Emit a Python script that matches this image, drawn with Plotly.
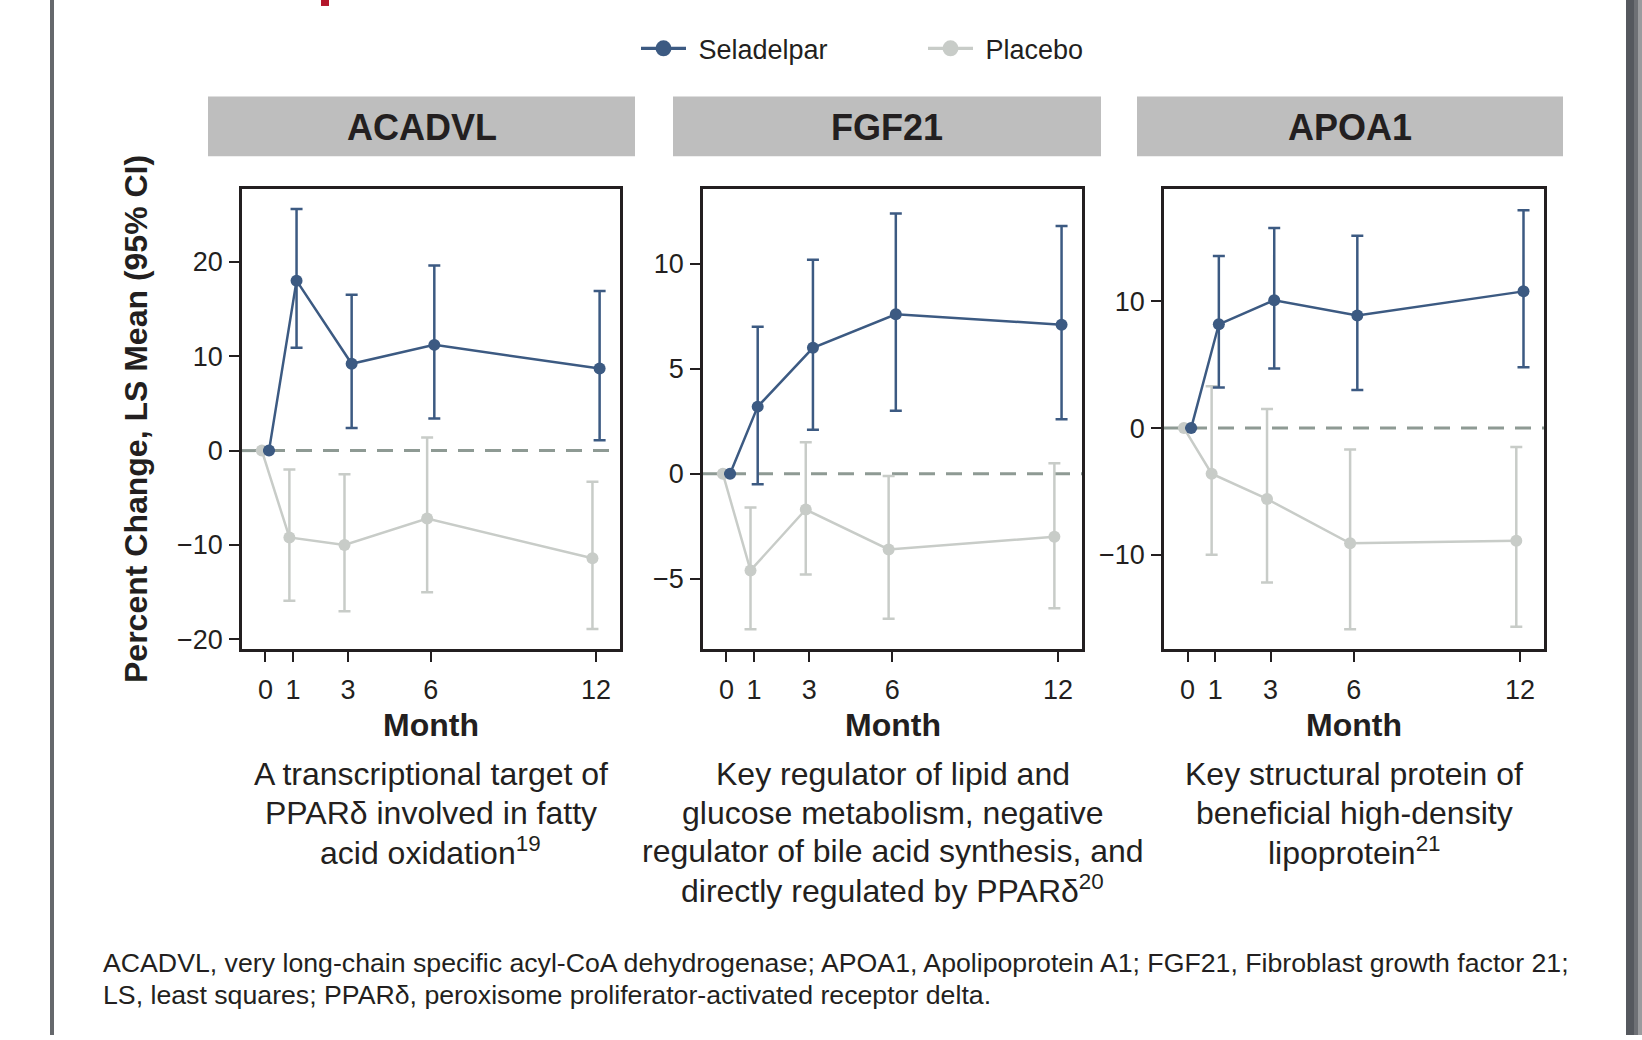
import plotly.graph_objects as go

W, H = 1642, 1040
FONT = "Liberation Sans, Arial, sans-serif"
TXT = "#231f20"
SEL_C = "#3c5a82"
PLC_C = "#c8ccc8"
ZERO_C = "#8e9a94"

months = [0, 1, 3, 6, 12]
dodge = 0.13

panels = ["ACADVL", "FGF21", "APOA1"]

sel_mean = {
    "ACADVL": [0, 18.0, 9.2, 11.2, 8.7],
    "FGF21": [0, 3.2, 6.0, 7.6, 7.1],
    "APOA1": [0, 8.2, 10.1, 8.9, 10.8],
}
sel_upper = {
    "ACADVL": [None, 25.6, 16.5, 19.6, 16.9],
    "FGF21": [None, 7.0, 10.2, 12.4, 11.8],
    "APOA1": [None, 13.6, 15.8, 15.2, 17.2],
}
sel_lower = {
    "ACADVL": [None, 10.9, 2.4, 3.4, 1.1],
    "FGF21": [None, -0.5, 2.1, 3.0, 2.6],
    "APOA1": [None, 3.2, 4.7, 3.0, 4.8],
}
plc_mean = {
    "ACADVL": [0, -9.2, -10.0, -7.2, -11.4],
    "FGF21": [0, -4.6, -1.7, -3.6, -3.0],
    "APOA1": [0, -3.6, -5.6, -9.1, -8.9],
}
plc_upper = {
    "ACADVL": [None, -2.0, -2.5, 1.4, -3.3],
    "FGF21": [None, -1.6, 1.5, -0.1, 0.5],
    "APOA1": [None, 3.3, 1.5, -1.7, -1.5],
}
plc_lower = {
    "ACADVL": [None, -15.9, -17.0, -15.0, -18.9],
    "FGF21": [None, -7.4, -4.8, -6.9, -6.4],
    "APOA1": [None, -10.0, -12.2, -15.9, -15.7],
}

y_ranges = {
    "ACADVL": [-21.05, 27.7],
    "FGF21": [-8.36, 13.56],
    "APOA1": [-17.48, 18.88],
}
y_ticks = {
    "ACADVL": [-20, -10, 0, 10, 20],
    "FGF21": [-5, 0, 5, 10],
    "APOA1": [-10, 0, 10],
}
x_range = [-0.85, 12.87]

descriptions = {
    "ACADVL": ["A transcriptional target of", "PPARδ involved in fatty",
               "acid oxidation<sup>19</sup>"],
    "FGF21": ["Key regulator of lipid and", "glucose metabolism, negative",
              "regulator of bile acid synthesis, and",
              "directly regulated by PPARδ<sup>20</sup>"],
    "APOA1": ["Key structural protein of", "beneficial high-density",
              "lipoprotein<sup>21</sup>"],
}

footnote_lines = [
    "ACADVL, very long-chain specific acyl-CoA dehydrogenase; APOA1, Apolipoprotein A1; FGF21, Fibroblast growth factor 21;",
    "LS, least squares; PPARδ, peroxisome proliferator-activated receptor delta.",
]
y_title = "Percent Change, LS Mean (95% CI)"
x_title = "Month"
legend_names = ["Seladelpar", "Placebo"]

# layout geometry (pixels)
box_x = {"ACADVL": (242, 620), "FGF21": (703, 1082), "APOA1": (1164, 1544)}
box_y = (190, 652.5)
strip_x = {"ACADVL": (208, 635), "FGF21": (673, 1101), "APOA1": (1137, 1563)}
strip_y = (97, 157)


def px(x):
    return x / W


def py(y):
    return 1 - y / H


def err(mean, bound, upper):
    out = []
    for m, b in zip(mean, bound):
        if b is None:
            out.append(None)
        else:
            out.append(b - m if upper else m - b)
    return out


fig = go.Figure()
annotations = []
shapes = []

# legend-only entries
NB = "\u00a0"
fig.add_trace(go.Scatter(x=[None], y=[None], mode="lines+markers",
                         name=NB + legend_names[0], showlegend=True,
                         line=dict(color=SEL_C, width=3.2),
                         marker=dict(color=SEL_C, size=16)))
fig.add_trace(go.Scatter(x=[None], y=[None], mode="lines+markers",
                         name=NB + legend_names[1], showlegend=True,
                         line=dict(color=PLC_C, width=3.2),
                         marker=dict(color=PLC_C, size=16)))

for i, name in enumerate(panels):
    ax = "" if i == 0 else str(i + 1)
    xref, yref = "x" + ax, "y" + ax
    # placebo
    fig.add_trace(go.Scatter(
        x=[m - dodge for m in months], y=plc_mean[name],
        xaxis=xref, yaxis=yref, mode="lines+markers",
        name=legend_names[1], showlegend=False,
        line=dict(color=PLC_C, width=2.5),
        marker=dict(color=PLC_C, size=12),
        error_y=dict(type="data", symmetric=False,
                     array=err(plc_mean[name], plc_upper[name], True),
                     arrayminus=err(plc_mean[name], plc_lower[name], False),
                     color=PLC_C, thickness=2.5, width=6),
    ))
    # seladelpar
    fig.add_trace(go.Scatter(
        x=[m + dodge for m in months], y=sel_mean[name],
        xaxis=xref, yaxis=yref, mode="lines+markers",
        name=legend_names[0], showlegend=False,
        line=dict(color=SEL_C, width=2.5),
        marker=dict(color=SEL_C, size=12),
        error_y=dict(type="data", symmetric=False,
                     array=err(sel_mean[name], sel_upper[name], True),
                     arrayminus=err(sel_mean[name], sel_lower[name], False),
                     color=SEL_C, thickness=2.5, width=6),
    ))

    x0, x1 = box_x[name]
    axis_common = dict(
        showline=True, linecolor=TXT, linewidth=2.5, mirror=True,
        ticks="outside", ticklen=10, tickwidth=2, tickcolor=TXT,
        showgrid=False, zeroline=False,
        tickfont=dict(family=FONT, size=27, color=TXT),
    )
    fig.update_layout(**{
        "xaxis" + ax: dict(
            domain=[px(x0), px(x1)], range=x_range,
            tickvals=months, ticktext=[str(m) for m in months],
            anchor=yref, ticklabelstandoff=4, **axis_common),
        "yaxis" + ax: dict(
            domain=[py(box_y[1]), py(box_y[0])], range=y_ranges[name],
            tickvals=y_ticks[name], anchor=xref, ticklabelstandoff=1,
            **axis_common),
    })

    # zero reference line
    shapes.append(dict(type="line", xref=xref + " domain", yref=yref,
                       x0=0, x1=1, y0=0, y1=0, layer="below",
                       line=dict(color=ZERO_C, width=3, dash="16px,11px")))

    # strip header
    sx0, sx1 = strip_x[name]
    shapes.append(dict(type="rect", xref="paper", yref="paper",
                       x0=px(sx0), x1=px(sx1), y0=py(strip_y[1]), y1=py(strip_y[0]),
                       fillcolor="#bebebe", line=dict(width=0), layer="below"))
    annotations.append(dict(x=px((sx0 + sx1) / 2), y=py(sum(strip_y) / 2 + 1),
                            xref="paper", yref="paper", text="<b>%s</b>" % name,
                            showarrow=False, xanchor="center", yanchor="middle",
                            font=dict(family=FONT, size=36, color=TXT)))

    cx = (x0 + x1) / 2
    annotations.append(dict(x=px(cx), y=py(729), xref="paper", yref="paper",
                            text="<b>%s</b>" % x_title, showarrow=False,
                            xanchor="center", yanchor="middle",
                            font=dict(family=FONT, size=32, color=TXT)))
    for j, line in enumerate(descriptions[name]):
        annotations.append(dict(x=px(cx), y=py(778 + j * 38.5), xref="paper",
                                yref="paper", text=line, showarrow=False,
                                xanchor="center", yanchor="middle",
                                font=dict(family=FONT, size=32, color=TXT)))

# y-axis title
annotations.append(dict(x=px(136), y=py(421), xref="paper", yref="paper",
                        text="<b>%s</b>" % y_title, textangle=-90,
                        showarrow=False, xanchor="center", yanchor="middle",
                        font=dict(family=FONT, size=32, color=TXT)))

# footnote
for j, line in enumerate(footnote_lines):
    annotations.append(dict(x=px(101), y=py(968 + j * 31.5), xref="paper",
                            yref="paper", text=line, showarrow=False,
                            xanchor="left", yanchor="middle",
                            font=dict(family=FONT, size=26.7, color=TXT)))

# page frame decorations
shapes.append(dict(type="rect", xref="paper", yref="paper", x0=px(50), x1=px(54),
                   y0=0, y1=1, fillcolor="#65686c", line=dict(width=0)))
shapes.append(dict(type="rect", xref="paper", yref="paper", x0=px(1626), x1=px(1634),
                   y0=0, y1=1, fillcolor="#55585e", line=dict(width=0)))
shapes.append(dict(type="rect", xref="paper", yref="paper", x0=px(1634), x1=px(1638),
                   y0=0, y1=1, fillcolor="#6e7075", line=dict(width=0)))
shapes.append(dict(type="rect", xref="paper", yref="paper", x0=px(1638), x1=px(1642),
                   y0=0, y1=1, fillcolor="#9a9b9e", line=dict(width=0)))
shapes.append(dict(type="rect", xref="paper", yref="paper", x0=px(321), x1=px(329),
                   y0=py(6), y1=1, fillcolor="#b3162b", line=dict(width=0)))

fig.update_layout(
    width=W, height=H,
    margin=dict(l=0, r=0, t=0, b=0),
    paper_bgcolor="white", plot_bgcolor="white",
    font=dict(family=FONT, color=TXT),
    showlegend=True,
    legend=dict(orientation="h", x=px(636), y=py(49), xanchor="left",
                yanchor="middle", font=dict(family=FONT, size=27, color=TXT),
                traceorder="normal", entrywidth=227, entrywidthmode="pixels",
                itemwidth=45, bgcolor="rgba(0,0,0,0)"),
    annotations=annotations,
    shapes=shapes,
)

fig.write_html("out.html",
               config={"displayModeBar": False},
               post_script="document.body.style.margin='0px';"
                           "document.body.style.overflow='hidden';")
